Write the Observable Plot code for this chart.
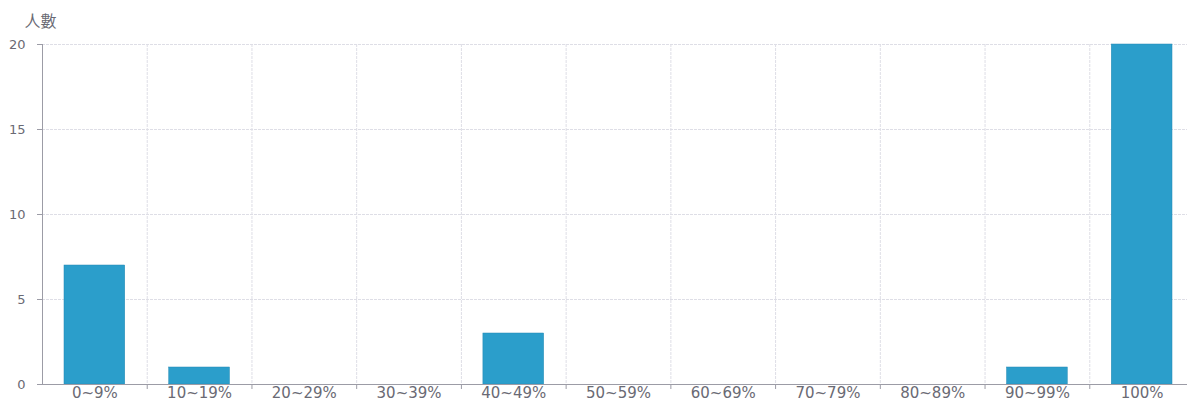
<!DOCTYPE html>
<html><head><meta charset="utf-8">
<script src="https://cdn.jsdelivr.net/npm/d3@7"></script>
<script src="https://cdn.jsdelivr.net/npm/@observablehq/plot@0.6"></script>
<style>body{margin:0;background:#fff}</style>
</head><body><div id="chart"></div>
<script>
const categories = ["0~9%","10~19%","20~29%","30~39%","40~49%","50~59%","60~69%","70~79%","80~89%","90~99%","100%"];
const counts = [7,1,0,0,3,0,0,0,0,1,20];
const yTicks = [0,5,10,15,20];
const data = categories.map((c,i)=>({cat:c, n:counts[i]}));

const W = 1187, mL = 42, mR = -7;
const bw = (W - mL - mR) / categories.length;
const gridColor = "#dedee6";
const axisColor = "#9c9ca6";
const textColor = "#6a6a74";

const chart = Plot.plot({
  width: W, height: 405,
  marginTop: 44, marginBottom: 21, marginLeft: mL, marginRight: mR,
  style: {fontFamily: "DejaVu Sans, sans-serif", fontSize: "13px", color: textColor, background: "#fff", overflow: "hidden"},
  x: {domain: categories, paddingInner: 0.42, paddingOuter: 0.21, round: false},
  y: {domain: [0, 20]},
  marks: [
    Plot.gridY({ticks: yTicks.filter(d=>d>0), stroke: gridColor, strokeOpacity: 1, strokeDasharray: "3,1"}),
    Plot.gridX({dx: bw/2, stroke: gridColor, strokeOpacity: 1, strokeDasharray: "3,1"}),
    Plot.barY(data, {x: "cat", y: "n", fill: "#2b9ecb", stroke: "#2489b4", strokeWidth: 0.5}),
    Plot.axisX({dx: bw/2, tickSize: 5, text: null, label: null, stroke: axisColor}),
    Plot.axisX({tickSize: 0, tickPadding: 3, label: null, fontSize: 15, letterSpacing: 1, fill: textColor}),
    Plot.axisY({ticks: yTicks, tickSize: 5, tickPadding: 12, label: null, stroke: axisColor, fill: textColor, fontSize: 13}),
    Plot.frame({anchor: "left", stroke: axisColor}),
    Plot.ruleY([0], {stroke: axisColor}),
    Plot.text(["人數"], {frameAnchor: "top-left", dx: -18, dy: -29, textAnchor: "start", fill: textColor, fontSize: 16, letterSpacing: 6, fontFamily: "Noto Sans CJK TC"})
  ]
});
document.getElementById("chart").appendChild(chart);
</script>
</body></html>
